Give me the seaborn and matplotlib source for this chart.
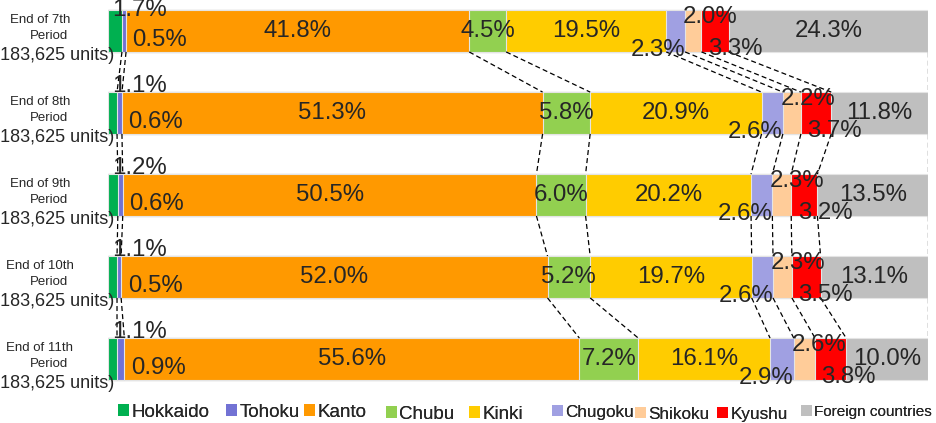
import numpy as np
import pandas as pd
import matplotlib
matplotlib.use("Agg")
import matplotlib.pyplot as plt
import seaborn as sns
from matplotlib.patches import Patch
from matplotlib import transforms

# ---------------- data ----------------
periods = ["End of 7th", "End of 8th", "End of 9th", "End of 10th", "End of 11th"]
period_word = "Period"
units_label = "(183,625 units)"
regions = ["Hokkaido", "Tohoku", "Kanto", "Chubu", "Kinki",
           "Chugoku", "Shikoku", "Kyushu", "Foreign countries"]
hokkaido = [1.7, 1.1, 1.2, 1.1, 1.1]
tohoku = [0.5, 0.6, 0.6, 0.5, 0.9]
kanto = [41.8, 51.3, 50.5, 52.0, 55.6]
chubu = [4.5, 5.8, 6.0, 5.2, 7.2]
kinki = [19.5, 20.9, 20.2, 19.7, 16.1]
chugoku = [2.3, 2.6, 2.6, 2.6, 2.9]
shikoku = [2.0, 2.2, 2.3, 2.3, 2.6]
kyushu = [3.3, 3.7, 3.2, 3.5, 3.8]
foreign = [24.3, 11.8, 13.5, 13.1, 10.0]
colors = ["#00B050", "#7272D4", "#FF9900", "#92D050", "#FFCC00",
          "#A0A0E2", "#FFCC99", "#FF0000", "#BFBFBF"]

# ---------------- style ----------------
sns.set_style("white")
plt.rcParams["font.family"] = ["Liberation Sans", "DejaVu Sans"]

fig = plt.figure(figsize=(9.37, 4.23), dpi=100)
ax = fig.add_axes([108 / 937, 1 - 387.7 / 423, 820 / 937, 381.3 / 423])

vals = np.array([hokkaido, tohoku, kanto, chubu, kinki,
                 chugoku, shikoku, kyushu, foreign]).T
pct = vals / vals.sum(axis=1, keepdims=True) * 100
cum = np.cumsum(pct, axis=1)
start = cum - pct
row_names = [f"{p} {period_word}" for p in periods]
bar_h = 0.51

for k in range(len(regions) - 1, -1, -1):
    df = pd.DataFrame({"row": row_names, "cum": cum[:, k]})
    sns.barplot(data=df, x="cum", y="row", order=row_names, orient="h",
                color=colors[k], saturation=1, width=bar_h, errorbar=None,
                edgecolor="#e4e4e4", linewidth=0.8, ax=ax)

# connector dashed lines
for i in range(len(periods) - 1):
    for k in range(len(regions)):
        ax.plot([cum[i, k], cum[i + 1, k]],
                [i + bar_h / 2, i + 1 - bar_h / 2],
                color="black", lw=0.9, ls=(0, (4, 2.5)), zorder=1)

ax.set_xlim(0, 100)
ax.set_ylim(4.35, -0.3)
ax.set_axis_off()

fs = 17.3
half = bar_h / 2
for i in range(len(periods)):
    for k in range(len(regions)):
        txt = f"{vals[i, k]:.1f}%"
        if k == 0:      # Hokkaido: above the bar, left
            ax.text(0.5, max(i - half - 0.07, -0.25), txt, ha="left", va="center", fontsize=fs)
        elif k == 1:    # Tohoku: inside lower
            ax.text(cum[i, 1] + 0.8, i + 0.11, txt, ha="left", va="center", fontsize=fs)
        elif k == 5:    # Chugoku: at bottom edge, right aligned
            ax.text(cum[i, 5], i + half - 0.02, txt, ha="right", va="center", fontsize=fs)
        elif k == 6:    # Shikoku: near top edge
            ax.text(start[i, 6] - 0.3, i - half + 0.08, txt, ha="left", va="center", fontsize=fs)
        elif k == 7:    # Kyushu: at bottom edge
            ax.text(start[i, 7] + 0.8, i + half - 0.04, txt, ha="left", va="center", fontsize=fs)
        else:
            ax.text(start[i, k] + pct[i, k] / 2, i, txt, ha="center", va="center", fontsize=fs)

# row labels
tr = transforms.blended_transform_factory(fig.transFigure, ax.transData)
for i, p in enumerate(periods):
    fig.text(40 / 937, i - 0.14, p, transform=tr, ha="center", va="center", fontsize=9.5)
    fig.text(49 / 937, i + 0.06, period_word, transform=tr, ha="center", va="center", fontsize=9.5)
    fig.text(114 / 937, i + 0.30, units_label, transform=tr, ha="right", va="center", fontsize=13)

# legend: one entry per legend box, placed along the bottom
leg_x = [118, 226, 304, 386, 469, 552, 635, 717, 801]
leg_dy = [0, 0, 0, -2, -2, 0, -2, -2, 0]
leg_fs = [13.5, 13.5, 13.5, 13.5, 13.5, 12.3, 12.3, 12.3, 11.0]
for k, reg in enumerate(regions):
    lg = fig.legend(handles=[Patch(facecolor=colors[k], edgecolor="none")], labels=[reg],
                    loc="center left",
                    bbox_to_anchor=(leg_x[k] / 937, (423 - 412 + leg_dy[k]) / 423),
                    frameon=False, fontsize=leg_fs[k],
                    handlelength=0.6 * 13.5 / leg_fs[k], handleheight=0.6 * 13.5 / leg_fs[k],
                    handletextpad=0.12 * 13.5 / leg_fs[k], borderpad=0, borderaxespad=0)
    fig.add_artist(lg)

fig.savefig("out.png", dpi=100)
